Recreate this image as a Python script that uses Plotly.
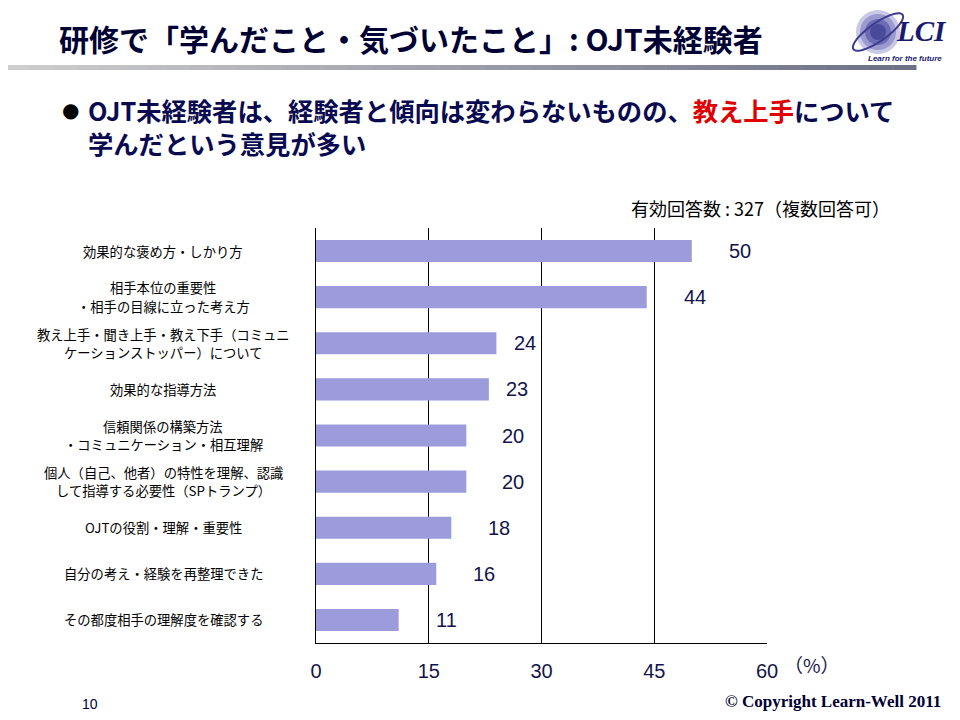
import numpy as np
import plotly.graph_objects as go

# ---- data ----
categories = [
    "効果的な褒め方・しかり方",
    "相手本位の重要性<br>・相手の目線に立った考え方",
    "教え上手・聞き上手・教え下手（コミュニ<br>ケーションストッパー）について",
    "効果的な指導方法",
    "信頼関係の構築方法<br>・コミュニケーション・相互理解",
    "個人（自己、他者）の特性を理解、認識<br>して指導する必要性（SPトランプ）",
    "OJTの役割・理解・重要性",
    "自分の考え・経験を再整理できた",
    "その都度相手の理解度を確認する",
]
values = [50, 44, 24, 23, 20, 20, 18, 16, 11]
label_shift = [48, 48, 29, 28, 47, 47, 48, 48, 48]
x_ticks = [0, 15, 30, 45, 60]
x_ticklabels = ["0", "15", "30", "45", "60"]

# page has an 8px body margin; figure sized to fit inside the window
OFF = 8
W, H = 944, 704
L, R, T, B = 316 - OFF, 767 - OFF, 228 - OFF, 643 - OFF

def px(xp):  # page x -> paper x
    return (xp - OFF - L) / (R - L)

def py(yp):  # page y -> paper y
    return (B - (yp - OFF)) / (B - T)

JP = "Noto Sans CJK JP"
NAVY = "#14144a"

fig = go.Figure()
fig.add_trace(go.Bar(
    x=values, y=categories, orientation="h",
    marker=dict(color="#9c9cdc", line=dict(width=0)),
    width=0.48, hoverinfo="skip",
))

annotations = []
# value labels
for c, v, s in zip(categories, values, label_shift):
    annotations.append(dict(x=v, y=c, xref="x", yref="y", text=str(v),
                            showarrow=False, xanchor="center", yanchor="middle",
                            xshift=s, font=dict(family="Liberation Sans", size=20, color=NAVY)))
# category labels (centered, one annotation per line)
for c in categories:
    lines = c.split("<br>")
    n = len(lines)
    for i, ln in enumerate(lines):
        annotations.append(dict(x=px(163), y=c, xref="paper", yref="y", text=ln,
                                showarrow=False, xanchor="center", yanchor="middle",
                                borderpad=0,
                                yshift=(n - 1) * 9.25 - i * 18.5,
                                font=dict(family=JP, size=13.3, color="#000000")))
# percent unit
annotations.append(dict(x=px(812), y=py(664), xref="paper", yref="paper", text="（%）",
                        showarrow=False, xanchor="center", yanchor="middle",
                        font=dict(family=JP, size=19, color=NAVY)))
# response count
annotations.append(dict(x=px(892), y=py(208), xref="paper", yref="paper",
                        text="有効回答数 : 327（複数回答可）",
                        showarrow=False, xanchor="right", yanchor="middle",
                        font=dict(family=JP, size=18, color="#000000")))
# title
annotations.append(dict(x=px(57), y=py(38), xref="paper", yref="paper",
                        text="<b>研修で「学んだこと・気づいたこと」: OJT未経験者</b>",
                        showarrow=False, xanchor="left", yanchor="middle",
                        font=dict(family=JP, size=30, color="#000033")))
# bullet
annotations.append(dict(x=px(70), y=py(110), xref="paper", yref="paper", text="●",
                        showarrow=False, xanchor="center", yanchor="middle",
                        font=dict(family="DejaVu Sans", size=20, color="#000000")))
annotations.append(dict(x=px(86), y=py(110), xref="paper", yref="paper",
                        text="<b>OJT未経験者は、経験者と傾向は変わらないものの、<span style='color:#e00000'>教え上手</span>について</b>",
                        showarrow=False, xanchor="left", yanchor="middle",
                        font=dict(family=JP, size=25.3, color="#0a0a50")))
annotations.append(dict(x=px(86), y=py(143), xref="paper", yref="paper",
                        text="<b>学んだという意見が多い</b>",
                        showarrow=False, xanchor="left", yanchor="middle",
                        font=dict(family=JP, size=25.3, color="#0a0a50")))
# logo text
annotations.append(dict(x=px(921), y=py(31), xref="paper", yref="paper", text="<b><i>LCI</i></b>",
                        showarrow=False, xanchor="center", yanchor="middle",
                        font=dict(family="Liberation Serif", size=29, color="#1a1a6e")))
annotations.append(dict(x=px(905), y=py(58), xref="paper", yref="paper",
                        text="<b><i>Learn for the future</i></b>",
                        showarrow=False, xanchor="center", yanchor="middle",
                        font=dict(family="Liberation Sans", size=8, color="#1a1a6e")))
# footer
annotations.append(dict(x=px(90), y=py(704), xref="paper", yref="paper", text="10",
                        showarrow=False, xanchor="center", yanchor="middle",
                        font=dict(family="Liberation Sans", size=14, color="#000033")))
annotations.append(dict(x=px(942), y=py(701), xref="paper", yref="paper",
                        text="<b>© Copyright Learn-Well 2011</b>",
                        showarrow=False, xanchor="right", yanchor="middle", borderpad=0,
                        font=dict(family="Liberation Serif", size=17, color="#000033")))

shapes = []
# gradient header line
nseg = 40
x0p, x1p = OFF, 916
for i in range(nseg):
    t = i / (nseg - 1)
    r = int(205 + (110 - 205) * t)
    g = int(205 + (112 - 205) * t)
    b = int(205 + (135 - 205) * t)
    xa = x0p + (x1p - x0p) * i / nseg
    xb = x0p + (x1p - x0p) * (i + 1) / nseg + 0.5
    shapes.append(dict(type="rect", xref="paper", yref="paper",
                       x0=px(xa), x1=px(xb), y0=py(70), y1=py(65),
                       fillcolor=f"rgb({r},{g},{b})", line=dict(width=0), layer="above"))
# logo sphere
cx, cy = 878, 32
for rad, col in [(22, "#c9c9e6"), (18, "#9a9ad0"), (13, "#6c6cb4"), (8, "#4a4a9a")]:
    shapes.append(dict(type="circle", xref="paper", yref="paper",
                       x0=px(cx - rad), x1=px(cx + rad), y0=py(cy + rad), y1=py(cy - rad),
                       fillcolor=col, line=dict(width=0), layer="above"))
# orbit
tt = np.linspace(0, 2 * np.pi, 60)
ang = np.deg2rad(-35)
ex, ey = 30 * np.cos(tt), 9 * np.sin(tt)
ox = cx + ex * np.cos(ang) - ey * np.sin(ang)
oy = cy + ex * np.sin(ang) + ey * np.cos(ang)
path = "M " + " L ".join(f"{px(a):.5f},{py(b):.5f}" for a, b in zip(ox, oy)) + " Z"
shapes.append(dict(type="path", xref="paper", yref="paper", path=path,
                   line=dict(color="#3c3c8c", width=2), layer="above"))

fig.update_layout(
    width=W, height=H,
    margin=dict(l=L, r=W - R, t=T, b=H - B, pad=0),
    paper_bgcolor="white", plot_bgcolor="white",
    showlegend=False,
    annotations=annotations, shapes=shapes,
    xaxis=dict(range=[0, 60], tickvals=x_ticks, ticktext=x_ticklabels,
               showgrid=True, gridcolor="#000000", gridwidth=1, zeroline=False,
               showline=True, linecolor="#000000", linewidth=1, ticks="",
               tickfont=dict(family="Liberation Sans", size=20, color=NAVY),
               ticklabelstandoff=10, fixedrange=True),
    yaxis=dict(categoryorder="array", categoryarray=categories, autorange="reversed",
               showticklabels=False, showgrid=False, zeroline=False,
               showline=True, linecolor="#000000", linewidth=1, ticks="", fixedrange=True),
)

fig.write_html("out.html")
